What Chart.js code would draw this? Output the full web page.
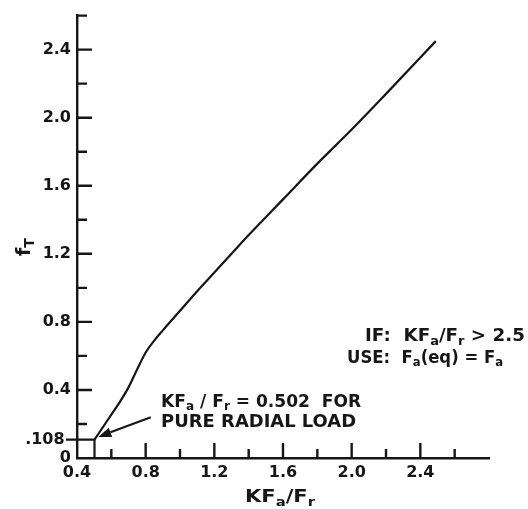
<!DOCTYPE html>
<html><head><meta charset="utf-8">
<script src="https://cdn.jsdelivr.net/npm/chart.js@4/dist/chart.umd.min.js"></script>
<style>html,body{margin:0;padding:0;background:#fff}#wrap{width:528px;height:509px}</style>
</head><body><div id="wrap"><canvas id="c" width="528" height="509"></canvas></div>
<script>
// ---- data ----
const curveX = [0.502, 0.55, 0.60, 0.65, 0.70, 0.75, 0.80, 0.85, 0.90, 1.00, 1.10, 1.20, 1.30, 1.40, 1.60, 1.80, 2.00, 2.20, 2.49];
const curveY = [0.108, 0.18, 0.255, 0.33, 0.415, 0.52, 0.62, 0.69, 0.75, 0.865, 0.98, 1.09, 1.20, 1.31, 1.52, 1.73, 1.93, 2.14, 2.45];
const refX = [0.4, 0.502, 0.502];
const refY = [0.108, 0.108, 0];
const xLabelTicks = [0.4, 0.8, 1.2, 1.6, 2.0, 2.4];
const xTickText = ['0.4', '0.8', '1.2', '1.6', '2.0', '2.4'];
const xMajorMarks = [0.8, 1.2, 1.6, 2.0, 2.4];
const xMinorMarks = [0.6, 1.0, 1.4, 1.8, 2.2, 2.6];
const yLabelTicks = [0, 0.108, 0.4, 0.8, 1.2, 1.6, 2.0, 2.4];
const yTickText = ['0', '.108', '0.4', '0.8', '1.2', '1.6', '2.0', '2.4'];
const yMajorMarks = [0.4, 0.8, 1.2, 1.6, 2.0, 2.4];
const yMinorMarks = [0.2, 0.6, 1.0, 1.4, 1.8, 2.2, 2.6];
const xRange = [0.4, 2.8];
const yRange = [0, 2.6];
const arrowTail = [0.83, 0.24];
const arrowTip = [0.524, 0.124];

const INK = '#161616';
const FAM = '"DejaVu Sans", sans-serif';

function fontFor(seg, size) {
  const s = seg.sub ? Math.round(size * 0.72) : size;
  return 'bold ' + s + 'px ' + FAM;
}
function drawRich(ctx, segs, x, capCenterY, align, size, targetWidth) {
  let w = 0;
  const widths = segs.map(s => { ctx.font = fontFor(s, size); const m = ctx.measureText(s.t).width; w += m; return m; });
  const sx = targetWidth ? targetWidth / w : 1;
  const tw = w * sx;
  const startX = align === 'right' ? x - tw : (align === 'center' ? x - tw / 2 : x);
  const baseline = capCenterY + size * 0.365;
  ctx.save();
  ctx.translate(startX, baseline);
  ctx.scale(sx, 1);
  ctx.fillStyle = INK;
  ctx.textAlign = 'left';
  ctx.textBaseline = 'alphabetic';
  let cx = 0;
  segs.forEach((s, i) => {
    ctx.font = fontFor(s, size);
    ctx.fillText(s.t, cx, s.sub ? size * 0.2 : 0);
    cx += widths[i];
  });
  ctx.restore();
}

const decor = {
  id: 'decor',
  afterDraw(chart) {
    const ctx = chart.ctx;
    const xs = chart.scales.x, ys = chart.scales.y;
    const ax = xs.getPixelForValue(xRange[0]);
    const ay = ys.getPixelForValue(yRange[0]);
    ctx.save();
    ctx.strokeStyle = INK;
    ctx.lineWidth = 2.4;
    ctx.lineCap = 'butt';
    ctx.beginPath();
    yMajorMarks.forEach(v => { const p = ys.getPixelForValue(v); ctx.moveTo(ax, p); ctx.lineTo(ax + 15, p); });
    yMinorMarks.forEach(v => { const p = ys.getPixelForValue(v); ctx.moveTo(ax, p); ctx.lineTo(ax + 10, p); });
    xMajorMarks.forEach(v => { const p = xs.getPixelForValue(v); ctx.moveTo(p, ay); ctx.lineTo(p, ay - 15); });
    xMinorMarks.forEach(v => { const p = xs.getPixelForValue(v); ctx.moveTo(p, ay); ctx.lineTo(p, ay - 9); });
    // outward tick for .108
    const p108 = ys.getPixelForValue(yLabelTicks[1]);
    ctx.moveTo(ax, p108); ctx.lineTo(ax - 11, p108);
    ctx.stroke();

    // arrow
    const tx = xs.getPixelForValue(arrowTail[0]), ty = ys.getPixelForValue(arrowTail[1]);
    const hx = xs.getPixelForValue(arrowTip[0]), hy = ys.getPixelForValue(arrowTip[1]);
    const ang = Math.atan2(hy - ty, hx - tx);
    const L = 13, W = 5;
    const bx = hx - L * Math.cos(ang), by = hy - L * Math.sin(ang);
    ctx.lineWidth = 2.2;
    ctx.beginPath(); ctx.moveTo(tx, ty); ctx.lineTo(bx, by); ctx.stroke();
    ctx.fillStyle = INK;
    ctx.beginPath();
    ctx.moveTo(hx, hy);
    ctx.lineTo(bx + W * Math.sin(ang), by - W * Math.cos(ang));
    ctx.lineTo(bx - W * Math.sin(ang), by + W * Math.cos(ang));
    ctx.closePath(); ctx.fill();

    // annotations
    drawRich(ctx, [{t:'KF'},{t:'a',sub:true},{t:' / F'},{t:'r',sub:true},{t:' = 0.502  FOR'}],
      xs.getPixelForValue(0.89), ys.getPixelForValue(0.337), 'left', 17, 200);
    drawRich(ctx, [{t:'PURE RADIAL LOAD'}],
      xs.getPixelForValue(0.89), ys.getPixelForValue(0.221), 'left', 17, 195);
    drawRich(ctx, [{t:'IF:  KF'},{t:'a',sub:true},{t:'/F'},{t:'r',sub:true},{t:' > 2.5'}],
      xs.getPixelForValue(2.078), ys.getPixelForValue(0.722), 'left', 17, 160);
    drawRich(ctx, [{t:'USE:  F'},{t:'a',sub:true},{t:'(eq) = F'},{t:'a',sub:true}],
      xs.getPixelForValue(1.973), ys.getPixelForValue(0.595), 'left', 17, 156);

    // axis titles
    const ca = chart.chartArea;
    drawRich(ctx, [{t:'KF'},{t:'a',sub:true},{t:'/F'},{t:'r',sub:true}],
      (ca.left + ca.right) / 2 - 3, ca.bottom + 38, 'center', 17, 70);
    ctx.save();
    ctx.translate(23, ys.getPixelForValue(1.24));
    ctx.rotate(-Math.PI / 2);
    drawRich(ctx, [{t:'f'},{t:'T',sub:true}], 0, 0, 'center', 19, null);
    ctx.restore();
    ctx.restore();
  }
};

const tickFont = { family: '"DejaVu Sans", sans-serif', size: 16, weight: 'bold' };

new Chart(document.getElementById('c'), {
  type: 'scatter',
  data: {
    datasets: [
      { data: curveX.map((x, i) => ({ x, y: curveY[i] })), showLine: true, borderColor: INK, borderWidth: 2.2,
        pointRadius: 0, cubicInterpolationMode: 'monotone', fill: false },
      { data: refX.map((x, i) => ({ x, y: refY[i] })), showLine: true, borderColor: INK, borderWidth: 2.2,
        pointRadius: 0, tension: 0, fill: false }
    ]
  },
  options: {
    responsive: false, animation: false, devicePixelRatio: 1,
    layout: { padding: { top: 11, right: 39, left: 0, bottom: 0 } },
    plugins: { legend: { display: false }, tooltip: { enabled: false } },
    scales: {
      x: {
        type: 'linear', min: xRange[0], max: xRange[1],
        afterBuildTicks: s => { s.ticks = xLabelTicks.map(v => ({ value: v })); },
        afterFit: s => { s.height = 51; },
        ticks: { font: tickFont, color: INK, padding: 5, maxRotation: 0, autoSkip: false,
          callback: (v, i) => xTickText[i] },
        grid: { display: false, drawTicks: false },
        border: { display: true, color: INK, width: 2.4 }
      },
      y: {
        type: 'linear', min: yRange[0], max: yRange[1],
        afterBuildTicks: s => { s.ticks = yLabelTicks.map(v => ({ value: v })); },
        afterFit: s => { s.width = 77; },
        ticks: { font: tickFont, color: INK, padding: 6, autoSkip: false,
          callback: (v, i) => yTickText[i] + (i === 1 ? '\u2009\u2009' : '') },
        grid: { display: false, drawTicks: false },
        border: { display: true, color: INK, width: 2.4 }
      }
    }
  },
  plugins: [decor]
});
</script>
</body></html>
